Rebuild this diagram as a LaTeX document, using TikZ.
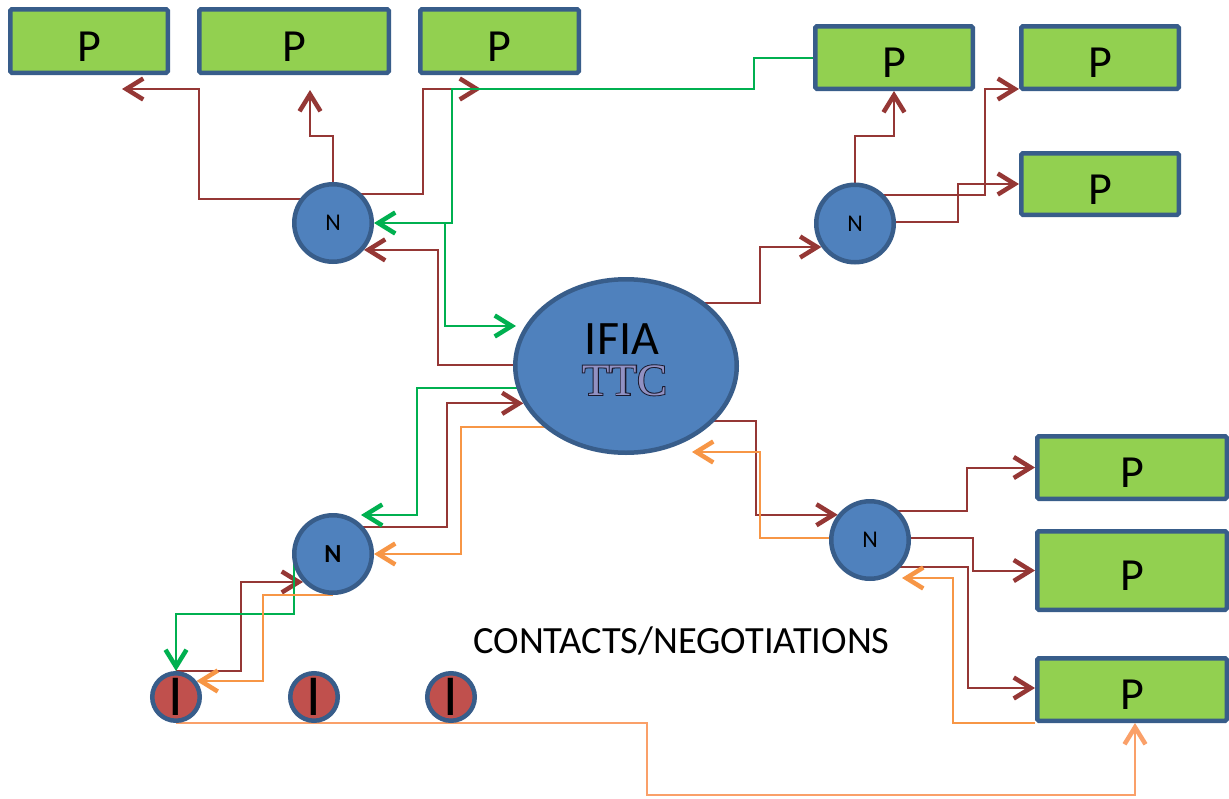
\documentclass[tikz,border=0pt]{standalone}
\usepackage{fontspec}
\setmainfont{Carlito}
\newfontfamily\ttcfont{Liberation Serif}
\newfontfamily\ttcoutline[FakeBold=4]{Liberation Serif}
\usetikzlibrary{arrows.meta,shapes.geometric,backgrounds}
\definecolor{pgreen}{RGB}{146,208,80}
\definecolor{nblue}{RGB}{79,129,189}
\definecolor{bord}{RGB}{56,93,138}
\definecolor{ired}{RGB}{192,80,77}
\definecolor{cbrown}{RGB}{149,55,53}
\definecolor{cgreen}{RGB}{0,176,80}
\definecolor{corange}{RGB}{247,150,70}
\definecolor{clorange}{RGB}{250,160,105}
\definecolor{ttcfill}{RGB}{145,145,195}
\definecolor{ttcline}{RGB}{25,25,45}
\begin{document}
\begin{tikzpicture}[x=1pt,y=-1pt,
  pbox/.style 2 args={draw=bord, line width=4.5pt, fill=pgreen, rounded corners=1.5pt,
     inner sep=0pt, minimum width=#1, minimum height=#2,
     font=\fontsize{46}{46}\selectfont, text height=40pt, text depth=0pt},
  nnode/.style={circle, draw=bord, line width=4.5pt, fill=nblue, minimum size=77.5pt,
     inner sep=0pt, font=\fontsize{24}{24}\selectfont},
  inode/.style={circle, draw=bord, line width=4.5pt, fill=ired, minimum size=47.5pt,
     inner sep=0pt, font=\fontsize{58}{58}\selectfont},
  br/.style={draw=cbrown, line width=2pt},
  gr/.style={draw=cgreen, line width=2pt},
  orl/.style={draw=corange, line width=2pt},
  lor/.style={draw=clorange, line width=2.5pt},
  arr/.style={-{Straight Barb[length=17pt,width=21pt,line width=4.5pt]}}
]
\useasboundingbox (0,0) rectangle (1229,798);

% P boxes
\node[pbox={157.5}{63.5}] (P1) at (89,41) {P};
\node[pbox={189.5}{63.5}] (P2) at (294,41) {P};
\node[pbox={158.5}{63.5}] (P3) at (499.5,41) {P};
\node[pbox={157.5}{62.5}] (P4) at (894,57.5) {P};
\node[pbox={157.5}{62.5}] (P5) at (1100,57.5) {P};
\node[pbox={157.5}{61.5}] (P6) at (1100,184) {P};
\node[pbox={189.5}{62.5}] (P7) at (1132,467.5) {P};
\node[pbox={189.5}{78.5}] (P8) at (1132,570.5) {P};
\node[pbox={189.5}{62.5}] (P9) at (1132,689.5) {P};

% N nodes
\node[nnode] (N1) at (333,223) {N};
\node[nnode] (N2) at (855,223.5) {N};
\node[nnode, font=\bfseries\fontsize{26}{26}\selectfont] (N3) at (333,554) {N};
\node[nnode] (N4) at (870,540) {N};

% central ellipse
\node[ellipse, draw=bord, line width=4.5pt, fill=nblue, minimum width=221.5pt,
      minimum height=173.5pt, inner sep=0pt] (E) at (626,366) {};
\node[anchor=base, inner sep=0pt, font=\fontsize{48}{48}\selectfont] (ifia) at (622,354) {IFIA};
\node[anchor=base, inner sep=0pt, font=\fontsize{45}{45}\selectfont] (ttc) at (624.5,395)
  {\makebox[0pt]{\ttcoutline\color{ttcline}TTC}\makebox[0pt]{\ttcfont\color{ttcfill}TTC}};

% I nodes
\node[inode] (I1) at (176,697) {I};
\node[inode] (I2) at (314,697) {I};
\node[inode] (I3) at (451,697) {I};

\node[anchor=base, font=\fontsize{38.5}{38.5}\selectfont] (ct) at (681.5,653) {CONTACTS/NEGOTIATIONS};

% free ends
\coordinate (a1) at (122,89);
\coordinate (a2) at (310,90);
\coordinate (a3) at (481,89);
\coordinate (g1) at (516,326);
\coordinate (g2) at (361,515);
\coordinate (o1) at (692,452);
\coordinate (o2) at (902,578);
\coordinate (gj) at (445,223);

\begin{pgfonlayer}{background}
\fill[white] (0,0) rectangle (1229,798);
% brown connectors
\draw[br,arr] (N1.center |- 0,199) -| (199,89) -- (a1);
\draw[br,arr] (N1.center) |- (310,136) -- (a2);
\draw[br,arr] (N1.center |- 0,194) -| (423,89) -- (a3);
\draw[br,arr] (E.center |- 0,365) -| (438,0 |- N1.-41) -- (N1.-41);
\draw[br,arr] (E.center |- 0,303) -| (760,0 |- N2.215) -- (N2.215);
\draw[br,arr] (N2.center) |- (P4.south |- 0,136) -- (P4.south);
\draw[br,arr] (N2.center |- 0,195) -| (985,89) -- (P5.west |- 0,89);
\draw[br,arr] (N2.center |- 0,222) -| (958,0 |- P6.west) -- (P6.west);
\draw[br,arr] (E.center |- 0,421) -| (756,0 |- N4.142) -- (N4.142);
\draw[br,arr] (N4.center |- 0,511) -| (967,0 |- P7.west) -- (P7.west);
\draw[br,arr] (N4.center |- 0,538) -| (973,0 |- P8.west) -- (P8.west);
\draw[br,arr] (N4.center |- 0,567) -| (968,688) -- (P9.west |- 0,688);
\draw[br,arr] (N3.center |- 0,527) -| (447,0 |- E.200) -- (E.200);
\draw[br,arr] (I1.north) -| (241,0 |- N3.223) -- (N3.223);
% green connectors
\draw[gr,arr] (P4.west) -| (754,89) -| (452,0 |- N1.east) -- (N1.east);
\draw[gr,arr] (gj) |- (g1);
\draw[gr,arr] (E.center |- 0,388) -| (417,515) -- (g2);
\draw[gr,arr] (294,0 |- N3.center) -- (294,614) -| (I1.north);
% orange connectors
\draw[orl,arr] (E.center |- 0,427) -| (461,0 |- N3.east) -- (N3.east);
\draw[orl,arr] (N3.south) -| (263,0 |- I1.38) -- (I1.38);
\draw[orl,arr] (N4.center |- 0,538) -| (760,452) -- (o1);
\draw[orl,arr] (P9.south west) -| (953,578) -- (o2);
\draw[lor,arr] (I1.south) -| (647,795) -| (1135,0 |- P9.south);
\end{pgfonlayer}
\end{tikzpicture}
\end{document}
